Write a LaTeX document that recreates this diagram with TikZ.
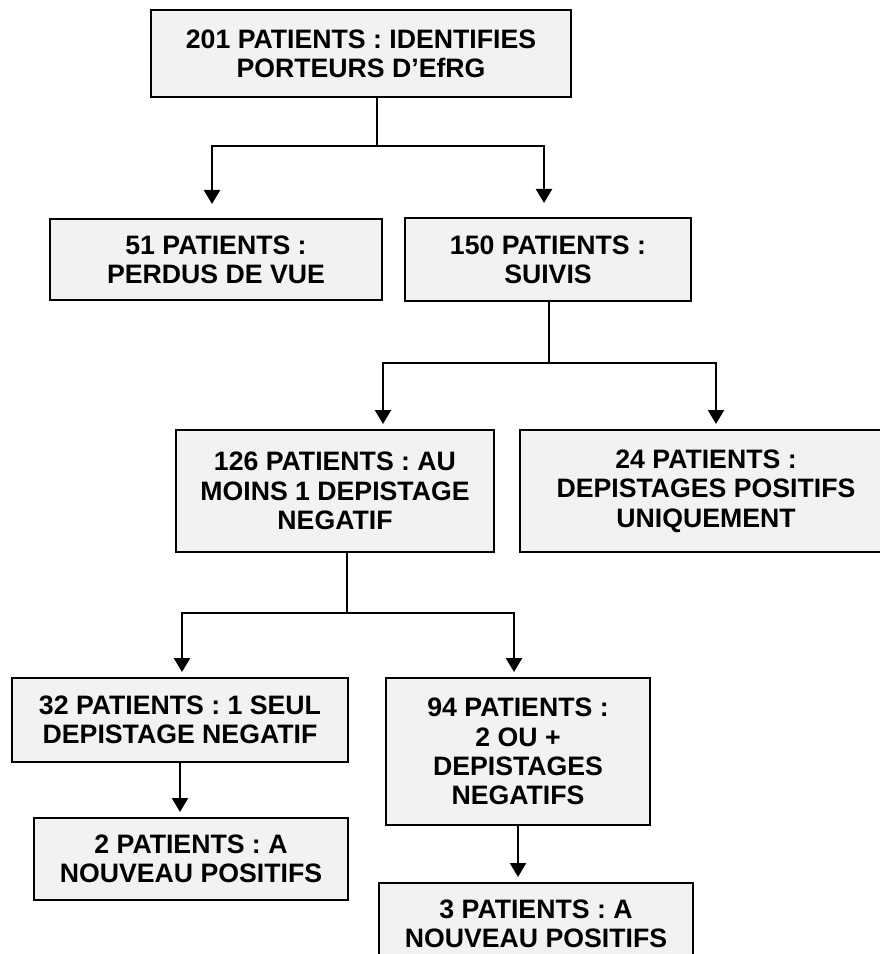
\documentclass[tikz,border=0pt]{standalone}
\usepackage{fontspec}
\setmainfont{Liberation Sans}
\usetikzlibrary{arrows.meta, positioning}
\newdimen\pxu \pxu=0.45pt
\definecolor{boxfill}{HTML}{F2F2F2}
\tikzset{
  box/.style={draw=black, line width=0.9pt, fill=boxfill, align=center, inner sep=4pt,
              font=\bfseries\fontsize{12pt}{13.2pt}\selectfont},
  link/.style={line width=1pt, draw=black},
  flow/.style={-{Triangle[length=6.3pt, width=7.2pt]}, line width=1pt, draw=black,
               shorten >=5\pxu},
}

\begin{document}
\begin{tikzpicture}
  \useasboundingbox (0,0) rectangle (879\pxu,-954\pxu);

  \node (top)     [box, minimum width=420\pxu, minimum height=87\pxu] at (361\pxu,-53.5\pxu)
                  {201 PATIENTS : IDENTIFIES\\PORTEURS D’EfRG};
  \node (lost)    [box, minimum width=332\pxu, minimum height=81\pxu, below=120\pxu of top, xshift=-145\pxu]
                  {51 PATIENTS :\\PERDUS DE VUE};
  \node (suivis)  [box, minimum width=286\pxu, minimum height=83\pxu, right=21\pxu of lost]
                  {150 PATIENTS :\\SUIVIS};
  \node (negatif) [box, minimum width=318\pxu, minimum height=122\pxu, below=127\pxu of suivis, xshift=-213\pxu]
                  {126 PATIENTS : AU\\MOINS 1 DEPISTAGE\\NEGATIF};
  \node (positif) [box, minimum width=372\pxu, minimum height=122\pxu, right=24\pxu of negatif]
                  {24 PATIENTS :\\DEPISTAGES POSITIFS\\UNIQUEMENT};
  \node (seul)    [box, minimum width=336\pxu, minimum height=84\pxu, below=124\pxu of negatif, xshift=-155\pxu]
                  {32 PATIENTS : 1 SEUL\\DEPISTAGE NEGATIF};
  \node (multi)   [box, minimum width=264\pxu, minimum height=147\pxu, right=36\pxu of seul.north east, anchor=north west]
                  {94 PATIENTS :\\2 OU +\\DEPISTAGES\\NEGATIFS};
  \node (nouv2)   [box, minimum width=314\pxu, minimum height=82\pxu, below=54\pxu of seul, xshift=11\pxu]
                  {2 PATIENTS : A\\NOUVEAU POSITIFS};
  \node (nouv3)   [box, minimum width=314\pxu, minimum height=82\pxu, below=56\pxu of multi, xshift=18\pxu]
                  {3 PATIENTS : A\\NOUVEAU POSITIFS};

  % first split
  \draw[link] ([xshift=16\pxu]top.south) -- ++(0,-48\pxu) coordinate (split1);
  \draw[flow, shorten >=14\pxu] (split1) -| ([xshift=-4\pxu]lost.north);
  \draw[flow, shorten >=14\pxu] (split1) -| ([xshift=-4\pxu]suivis.north);

  % second split
  \draw[link] ([xshift=1\pxu]suivis.south) -- ++(0,-61\pxu) coordinate (split2);
  \draw[flow] (split2) -| ([xshift=48\pxu]negatif.north);
  \draw[flow] (split2) -| ([xshift=10\pxu]positif.north);

  % third split
  \draw[link] ([xshift=12\pxu]negatif.south) -- ++(0,-60\pxu) coordinate (split3);
  \draw[flow] (split3) -| ([xshift=2\pxu]seul.north);
  \draw[flow] (split3) -| ([xshift=-4\pxu]multi.north);

  \draw[flow] (seul) -- (seul |- nouv2.north);
  \draw[flow] (multi) -- (multi |- nouv3.north);
\end{tikzpicture}
\end{document}
